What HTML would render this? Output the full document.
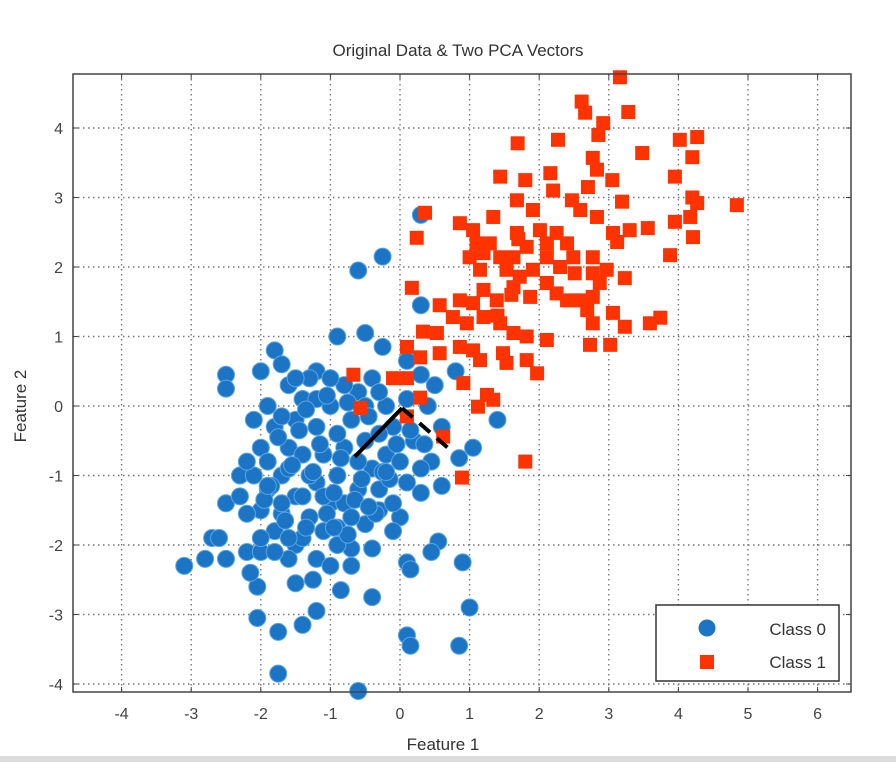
<!DOCTYPE html>
<html><head><meta charset="utf-8"><style>
html,body{margin:0;padding:0;background:#fff;}
svg{display:block;font-family:"Liberation Sans",sans-serif;}
</style></head><body>
<svg id="chart" width="896" height="762" viewBox="0 0 896 762">
<rect x="0" y="0" width="896" height="762" fill="#fff"/>
<rect x="0" y="756" width="896" height="6" fill="#dcdcdc"/>
<text x="458" y="56" text-anchor="middle" font-size="17" fill="#333">Original Data &amp; Two PCA Vectors</text>
<text x="443" y="750" text-anchor="middle" font-size="17" fill="#333">Feature 1</text>
<text transform="translate(26,406) rotate(-90)" text-anchor="middle" font-size="17" fill="#333">Feature 2</text>
<g id="grid"></g><g id="marks"></g><g id="axes"></g>
</svg>
<script>
const xTicks=[-4,-3,-2,-1,0,1,2,3,4,5,6];
const yTicks=[-4,-3,-2,-1,0,1,2,3,4];
const class0X=[-3.1,-2.8,-2.7,-2.5,-2.6,-2.5,-2.3,-2.5,-2.5,-2.0,-1.8,-1.7,-1.2,-0.9,-0.5,-0.6,-0.25,0.3,0.3,-0.25,0.1,0.3,0.8,1.4,1.05,0.85,0.6,0.3,0.45,0.55,0.1,0.15,0.45,0.9,1.0,0.1,0.15,0.85,-0.6,-1.75,-1.75,-2.05,-1.4,-1.2,-0.85,-0.4,-1.5,-1.25,-2.05,-2.15,-2.2,-2.0,-1.5,-1.7,-0.7,-0.4,-0.9,-0.3,0.0,-0.1,
-2.1,-2.0,-2.1,-1.9,-2.0,-1.8,-1.6,-1.4,-1.3,-1.5,-1.7,-1.6,-1.5,-1.4,-1.6,-1.2,-1.1,-1.2,-1.0,-0.9,-0.8,-0.7,-0.6,-0.5,-0.4,-0.3,-0.2,-0.1,0.0,0.1,0.2,-0.9,-1.0,-1.3,-0.8,-0.4,-0.2,0.1,-1.8,-1.9,-2.2,-2.3,-1.7,-1.1,-0.8,-0.6,-0.5,-1.2,-1.0,-0.7,-1.6,-1.4,-1.3,-0.6,-0.3,0.3,-0.1,-0.9,-1.5,-1.0,-2.0,-1.8,-1.2,-0.5,-0.7,-1.1,-1.4,-1.6,-1.9,-0.3,0.4,0.5,0.6,0.35,
-1.75,-1.45,-1.15,-0.85,-0.55,-0.25,-1.85,-1.55,-1.25,-0.95,-0.65,-0.35,-0.05,-1.95,-1.65,-1.35,-1.05,-0.75,-0.45,-0.15,-1.7,-1.35,-1.05,-0.75,-0.45,-2.2,-1.9,-0.2,0.15,-0.95];
const class0Y=[-2.3,-2.2,-1.9,-2.2,-1.9,-1.4,-1.0,0.45,0.25,0.5,0.8,0.6,0.5,1.0,1.05,1.95,2.15,2.75,1.45,0.85,0.65,0.45,0.5,-0.2,-0.6,-0.75,-1.15,-1.25,-0.8,-1.95,-2.25,-2.35,-2.1,-2.25,-2.9,-3.3,-3.45,-3.45,-4.1,-3.85,-3.25,-3.05,-3.15,-2.95,-2.65,-2.75,-2.55,-2.5,-2.6,-2.4,-2.1,-2.1,-2.0,-1.55,-2.05,-2.05,-1.75,-1.5,-1.6,-1.4,
-0.2,-0.6,-1.0,-1.2,-1.5,-1.8,-2.2,-1.9,-1.6,-1.3,-1.0,-0.6,-0.2,0.1,0.3,-0.3,-0.7,-1.1,-1.4,-1.0,-0.6,-0.2,0.2,-0.5,-0.9,-1.2,-0.7,-0.3,-0.8,-1.1,-0.5,-0.4,0.0,0.4,0.3,0.4,0.0,0.1,-0.3,0.0,-0.8,-1.3,-1.4,-1.8,-1.4,-1.2,-1.7,-2.2,-2.3,-2.3,-1.9,-0.7,-1.0,-0.8,-0.4,-0.9,-1.8,-2.0,0.4,0.4,-1.9,-2.1,0.1,0.0,-1.6,-1.3,-1.3,-0.9,-0.8,0.2,0.0,0.3,-0.3,-0.55,
-0.45,-0.35,-0.55,-0.75,-1.05,-0.95,-1.15,-0.85,-0.95,-1.25,-1.35,-1.55,-0.55,-1.35,-1.65,-1.75,-1.55,-1.85,-1.45,-1.05,-0.15,-0.05,0.15,0.05,-0.15,-1.55,-1.15,-0.95,-0.35,-1.75];
const class1X=[3.16,2.61,2.66,3.28,2.92,2.85,1.69,2.27,4.02,4.27,4.2,3.48,2.77,2.83,1.44,3.95,1.8,2.16,3.05,2.7,4.2,4.84,4.27,3.19,2.47,2.2,1.68,0.36,0.24,1.34,1.91,2.59,2.83,4.17,3.95,4.21,3.56,3.3,3.06,3.12,3.88,0.86,1.05,1.1,1.0,1.29,1.44,1.68,1.82,2.01,2.11,2.25,2.4,2.49,2.77,2.97,3.23,2.51,2.77,2.11,1.63,1.15,1.53,1.72,1.91,0.17,0.57,0.86,1.05,1.2,1.39,1.63,1.87,2.11,2.25,2.4,2.59,2.77,2.87,2.69,3.06,2.77,3.23,3.59,3.74,2.73,3.02,0.76,0.96,1.2,1.44,1.63,1.82,2.11,0.33,0.53,0.1,0.29,0.57,0.86,1.05,1.15,1.48,1.53,1.82,1.97,-0.67,-0.1,0.1,0.91,1.25,1.34,1.12,0.29,-0.57,0.1,0.62,1.8,0.89,1.6,1.4,1.7,2.3,1.2];
const class1Y=[4.73,4.38,4.22,4.23,4.07,3.9,3.78,3.83,3.83,3.87,3.58,3.64,3.57,3.4,3.3,3.3,3.25,3.35,3.25,3.15,3.0,2.89,2.92,2.94,2.96,3.1,2.96,2.78,2.42,2.72,2.82,2.82,2.72,2.72,2.65,2.43,2.56,2.53,2.49,2.36,2.17,2.63,2.53,2.34,2.14,2.34,2.14,2.49,2.29,2.53,2.34,2.49,2.34,2.14,2.14,1.96,1.84,1.91,1.91,2.14,2.14,1.96,1.96,1.86,1.96,1.7,1.45,1.52,1.48,1.67,1.52,1.71,1.57,1.77,1.62,1.52,1.52,1.57,1.77,1.38,1.34,1.19,1.14,1.19,1.27,0.88,0.88,1.28,1.19,1.28,1.19,1.05,1.0,0.95,1.07,1.05,0.85,0.7,0.76,0.85,0.8,0.66,0.76,0.62,0.66,0.47,0.45,0.4,0.4,0.33,0.16,0.09,-0.01,0.12,-0.03,-0.15,-0.44,-0.8,-1.03,1.6,1.3,2.4,2.0,2.2];
const pca1X=[-0.65,0.03], pca1Y=[-0.73,-0.03];
const pca2X=[0.03,0.72], pca2Y=[-0.03,-0.63];

const NS="http://www.w3.org/2000/svg";
const L=73,R=851,T=74,B=692;
function sx(v){return 400+69.6*v;}
function sy(v){return 406-69.5*v;}
function mk(tag,attrs,parent){const e=document.createElementNS(NS,tag);for(const k in attrs)e.setAttribute(k,attrs[k]);parent.appendChild(e);return e;}
const grid=document.getElementById('grid'),marks=document.getElementById('marks'),axes=document.getElementById('axes');
xTicks.forEach(t=>{
  const g=mk('line',{x1:sx(t),x2:sx(t),y1:T,y2:B,stroke:'#777','stroke-width':1.4,'stroke-dasharray':'1.5,3.5'},grid);
  
  
  const lb=mk('text',{x:sx(t),y:B+27,'text-anchor':'middle','font-size':16,fill:'#444'},axes);
  lb.textContent=String(t);
  
  
  mk('line',{x1:sx(t),x2:sx(t),y1:B,y2:B-5,stroke:'#444'},axes);
  mk('line',{x1:sx(t),x2:sx(t),y1:T,y2:T+5,stroke:'#444'},axes);
});
yTicks.forEach(t=>{
  const g=mk('line',{x1:L,x2:R,y1:sy(t),y2:sy(t),stroke:'#777','stroke-width':1.4,'stroke-dasharray':'1.5,3.5'},grid);
  
  
  const lb=mk('text',{x:L-10,y:sy(t)+6,'text-anchor':'end','font-size':16,fill:'#444'},axes);
  lb.textContent=String(t);
  
  
  mk('line',{x1:L,x2:L+5,y1:sy(t),y2:sy(t),stroke:'#444'},axes);
  mk('line',{x1:R,x2:R-5,y1:sy(t),y2:sy(t),stroke:'#444'},axes);
});
class0X.forEach((x,i)=>{
  const c=mk('circle',{cx:sx(x),cy:sy(class0Y[i]),r:8.5,fill:'#1b74c4',stroke:'#5aa6e6','stroke-width':1},marks);
  
  
});
class1X.forEach((x,i)=>{
  const s=mk('rect',{x:sx(x)-7,y:sy(class1Y[i])-7,width:14,height:14,fill:'#ff3300'},marks);
  
  
});
const p1=mk('line',{x1:sx(pca1X[0]),y1:sy(pca1Y[0]),x2:sx(pca1X[1]),y2:sy(pca1Y[1]),stroke:'#000','stroke-width':4},marks);


const p2=mk('line',{x1:sx(pca2X[0]),y1:sy(pca2Y[0]),x2:sx(pca2X[1]),y2:sy(pca2Y[1]),stroke:'#000','stroke-width':4,'stroke-dasharray':'14,9'},marks);


const box=mk('rect',{x:L,y:T,width:R-L,height:B-T,fill:'none',stroke:'#444','stroke-width':1.5},axes);


const lg=mk('g',{},axes);


mk('rect',{x:656,y:605,width:183,height:76,fill:'#fff',stroke:'#333','stroke-width':1.5},lg);
const lc=mk('circle',{cx:707,cy:628,r:8.5,fill:'#1b74c4'},lg);


const lr=mk('rect',{x:700,y:655,width:14,height:14,fill:'#ff3300'},lg);


const t0=mk('text',{x:826,y:635,'text-anchor':'end','font-size':17,fill:'#333'},lg);t0.textContent='Class 0';


const t1=mk('text',{x:826,y:668,'text-anchor':'end','font-size':17,fill:'#333'},lg);t1.textContent='Class 1';


</script>
</body></html>
